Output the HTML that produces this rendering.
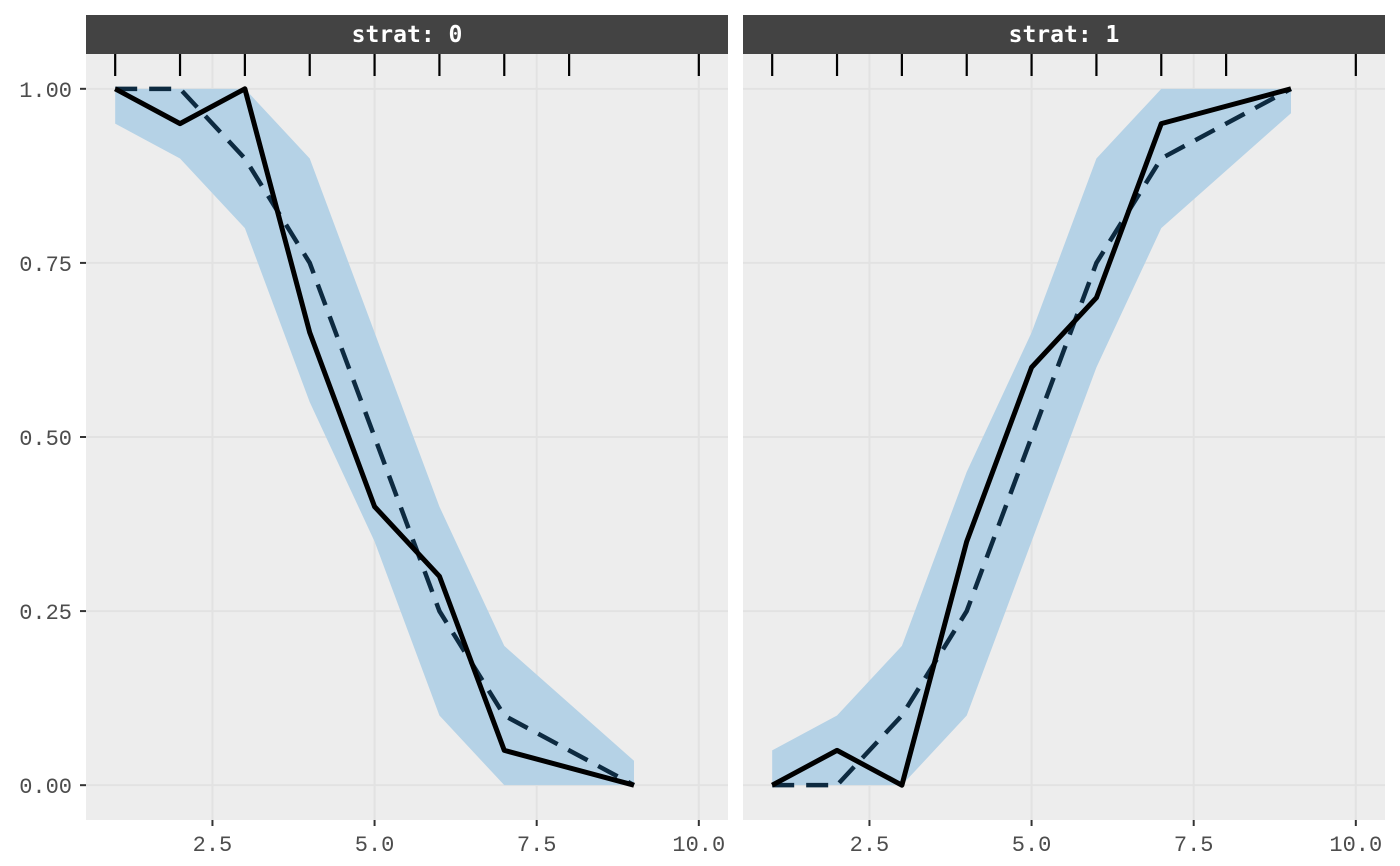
<!DOCTYPE html>
<html><head><meta charset="utf-8"><style>
body{margin:0;background:#fff;}
svg{display:block;font-family:"Liberation Mono","DejaVu Sans Mono",monospace;}
</style></head><body>
<svg id="chart" width="1400" height="866"></svg>
<script>
const xs = [1,2,3,4,5,6,7,9];
const rugX = [1,2,3,4,5,6,7,8,10];
const strata = ["0","1"];
const solid0 = [1,0.95,1,0.65,0.4,0.3,0.05,0];
const dash0 = [1,1,0.9,0.75,0.5,0.25,0.1,0];
const upper0 = [1,1,1,0.9,0.65,0.4,0.2,0.035];
const lower0 = [0.95,0.9,0.8,0.55,0.35,0.1,0,0];
const solid1 = [0,0.05,0,0.35,0.6,0.7,0.95,1];
const dash1 = [0,0,0.1,0.25,0.5,0.75,0.9,1];
const upper1 = [0.05,0.1,0.2,0.45,0.65,0.9,1,1];
const lower1 = [0,0,0,0.1,0.35,0.6,0.8,0.965];
const xTicks = [2.5,5,7.5,10];
const xTickLabels = ["2.5","5.0","7.5","10.0"];
const yTicks = [0,0.25,0.5,0.75,1];
const yTickLabels = ["0.00","0.25","0.50","0.75","1.00"];

const NS="http://www.w3.org/2000/svg";
const svg=document.getElementById('chart');
function mk(tag,attrs,parent){const e=document.createElementNS(NS,tag);for(const k in attrs)e.setAttribute(k,attrs[k]);(parent||svg).appendChild(e);return e;}
const panels=[{l:86,r:728,s:solid0,d:dash0,u:upper0,lo:lower0},{l:743,r:1385,s:solid1,d:dash1,u:upper1,lo:lower1}];
const plotTop=54,plotBot=820,xmin=0.55,xmax=10.45,ymin=-0.05,ymax=1.05;
const Y=v=>plotBot-(v-ymin)/(ymax-ymin)*(plotBot-plotTop);
panels.forEach((p,i)=>{
  const X=v=>p.l+(v-xmin)/(xmax-xmin)*(p.r-p.l);
  const g=mk('g',{});
  
  
  const bg=mk('rect',{x:p.l,y:plotTop,width:p.r-p.l,height:plotBot-plotTop,fill:'#ededed'},g);
  
  
  xTicks.forEach(v=>mk('line',{x1:X(v),x2:X(v),y1:plotTop,y2:plotBot,stroke:'#e2e2e2','stroke-width':2},g));
  yTicks.forEach(v=>mk('line',{x1:p.l,x2:p.r,y1:Y(v),y2:Y(v),stroke:'#e2e2e2','stroke-width':2},g));
  let pts=xs.map((x,j)=>X(x)+','+Y(p.u[j])).concat(xs.slice().reverse().map((x,j)=>X(x)+','+Y(p.lo[xs.length-1-j])));
  const rib=mk('polygon',{points:pts.join(' '),fill:'#b5d2e6'},g);
  
  
  const dl=mk('polyline',{points:xs.map((x,j)=>X(x)+','+Y(p.d[j])).join(' '),fill:'none',stroke:'#0d2a40','stroke-width':4.5,'stroke-dasharray':'22,12'},g);
  
  
  const sl=mk('polyline',{points:xs.map((x,j)=>X(x)+','+Y(p.s[j])).join(' '),fill:'none',stroke:'#000','stroke-width':5,'stroke-linejoin':'round'},g);
  
  
  rugX.forEach(v=>{const r=mk('line',{x1:X(v),x2:X(v),y1:plotTop,y2:plotTop+22,stroke:'#000','stroke-width':2.2},g);
    
    });
  const st=mk('rect',{x:p.l,y:15,width:p.r-p.l,height:39,fill:'#434343'},g);
  
  
  const stt=mk('text',{x:(p.l+p.r)/2,y:42,fill:'#fff','font-size':23,'font-weight':'bold','text-anchor':'middle','font-family':'"DejaVu Sans Mono",monospace'},g);
  stt.textContent='strat: '+strata[i];
  
  
  xTicks.forEach((v,j)=>{mk('line',{x1:X(v),x2:X(v),y1:plotBot,y2:plotBot+6,stroke:'#333','stroke-width':2},g);
    const t=mk('text',{x:X(v),y:plotBot+31,fill:'#4d4d4d','font-size':22,'text-anchor':'middle'},g);
    t.textContent=xTickLabels[j];
    
    });
});
yTicks.forEach((v,j)=>{mk('line',{x1:80,x2:86,y1:Y(v),y2:Y(v),stroke:'#333','stroke-width':2});
  const t=mk('text',{x:72,y:Y(v)+8,fill:'#4d4d4d','font-size':22,'text-anchor':'end'});
  t.textContent=yTickLabels[j];
  
  });
</script>
</body></html>
